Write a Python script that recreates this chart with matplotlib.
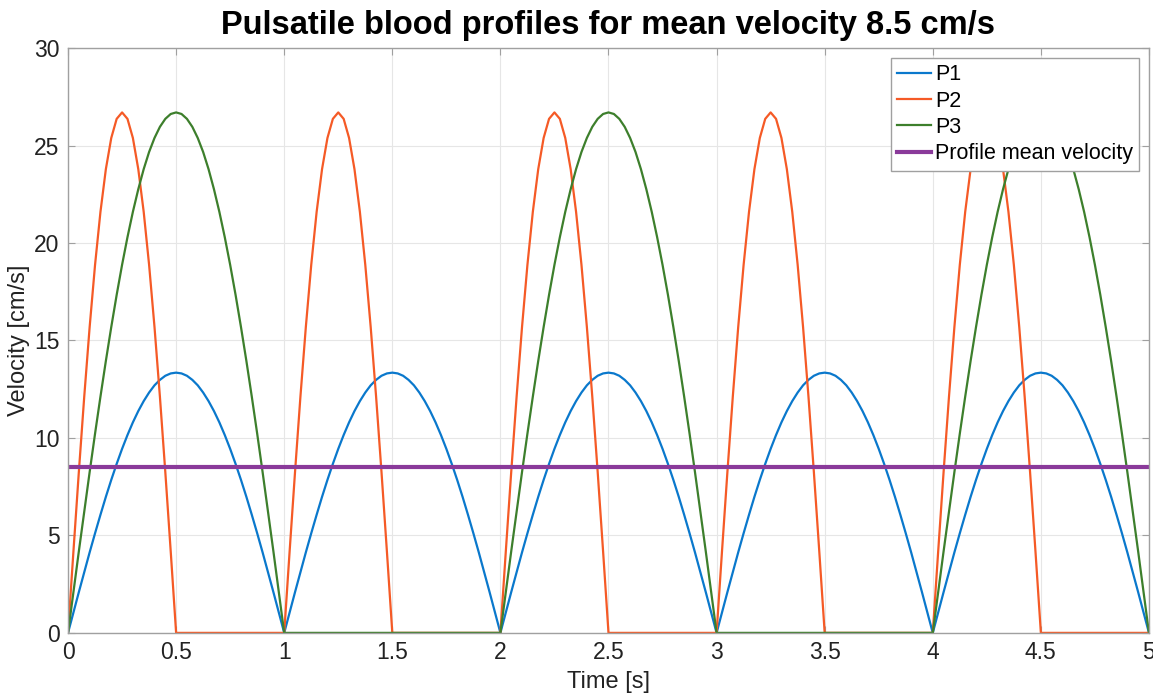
import numpy as np
import matplotlib as mpl
mpl.use('Agg')
import matplotlib.pyplot as plt

plt.rcParams['font.family'] = ['Liberation Sans', 'DejaVu Sans']

# velocity samples, every 0.025 s from 0 to 5 s
time_step = 0.025
p1 = [
    0, 1.05, 2.09, 3.12, 4.13, 5.11, 6.06, 6.98, 7.85, 8.67, 9.44, 10.15, 10.8, 11.38, 11.89, 12.33, 12.7, 12.98, 13.19, 13.31,
    13.35, 13.31, 13.19, 12.98, 12.7, 12.33, 11.89, 11.38, 10.8, 10.15, 9.44, 8.67, 7.85, 6.98, 6.06, 5.11, 4.13, 3.12, 2.09, 1.05,
    0, 1.05, 2.09, 3.12, 4.13, 5.11, 6.06, 6.98, 7.85, 8.67, 9.44, 10.15, 10.8, 11.38, 11.89, 12.33, 12.7, 12.98, 13.19, 13.31,
    13.35, 13.31, 13.19, 12.98, 12.7, 12.33, 11.89, 11.38, 10.8, 10.15, 9.44, 8.67, 7.85, 6.98, 6.06, 5.11, 4.13, 3.12, 2.09, 1.05,
    0, 1.05, 2.09, 3.12, 4.13, 5.11, 6.06, 6.98, 7.85, 8.67, 9.44, 10.15, 10.8, 11.38, 11.89, 12.33, 12.7, 12.98, 13.19, 13.31,
    13.35, 13.31, 13.19, 12.98, 12.7, 12.33, 11.89, 11.38, 10.8, 10.15, 9.44, 8.67, 7.85, 6.98, 6.06, 5.11, 4.13, 3.12, 2.09, 1.05,
    0, 1.05, 2.09, 3.12, 4.13, 5.11, 6.06, 6.98, 7.85, 8.67, 9.44, 10.15, 10.8, 11.38, 11.89, 12.33, 12.7, 12.98, 13.19, 13.31,
    13.35, 13.31, 13.19, 12.98, 12.7, 12.33, 11.89, 11.38, 10.8, 10.15, 9.44, 8.67, 7.85, 6.98, 6.06, 5.11, 4.13, 3.12, 2.09, 1.05,
    0, 1.05, 2.09, 3.12, 4.13, 5.11, 6.06, 6.98, 7.85, 8.67, 9.44, 10.15, 10.8, 11.38, 11.89, 12.33, 12.7, 12.98, 13.19, 13.31,
    13.35, 13.31, 13.19, 12.98, 12.7, 12.33, 11.89, 11.38, 10.8, 10.15, 9.44, 8.67, 7.85, 6.98, 6.06, 5.11, 4.13, 3.12, 2.09, 1.05,
    0]
p2 = [
    0, 4.18, 8.25, 12.12, 15.69, 18.88, 21.6, 23.79, 25.39, 26.37, 26.7, 26.37, 25.39, 23.79, 21.6, 18.88, 15.69, 12.12, 8.25, 4.18,
    0, 0, 0, 0, 0, 0, 0, 0, 0, 0, 0, 0, 0, 0, 0, 0, 0, 0, 0, 0,
    0, 4.18, 8.25, 12.12, 15.69, 18.88, 21.6, 23.79, 25.39, 26.37, 26.7, 26.37, 25.39, 23.79, 21.6, 18.88, 15.69, 12.12, 8.25, 4.18,
    0, 0, 0, 0, 0, 0, 0, 0, 0, 0, 0, 0, 0, 0, 0, 0, 0, 0, 0, 0,
    0, 4.18, 8.25, 12.12, 15.69, 18.88, 21.6, 23.79, 25.39, 26.37, 26.7, 26.37, 25.39, 23.79, 21.6, 18.88, 15.69, 12.12, 8.25, 4.18,
    0, 0, 0, 0, 0, 0, 0, 0, 0, 0, 0, 0, 0, 0, 0, 0, 0, 0, 0, 0,
    0, 4.18, 8.25, 12.12, 15.69, 18.88, 21.6, 23.79, 25.39, 26.37, 26.7, 26.37, 25.39, 23.79, 21.6, 18.88, 15.69, 12.12, 8.25, 4.18,
    0, 0, 0, 0, 0, 0, 0, 0, 0, 0, 0, 0, 0, 0, 0, 0, 0, 0, 0, 0,
    0, 4.18, 8.25, 12.12, 15.69, 18.88, 21.6, 23.79, 25.39, 26.37, 26.7, 26.37, 25.39, 23.79, 21.6, 18.88, 15.69, 12.12, 8.25, 4.18,
    0, 0, 0, 0, 0, 0, 0, 0, 0, 0, 0, 0, 0, 0, 0, 0, 0, 0, 0, 0,
    0]
p3 = [
    0, 2.1, 4.18, 6.23, 8.25, 10.22, 12.12, 13.95, 15.69, 17.34, 18.88, 20.3, 21.6, 22.76, 23.79, 24.67, 25.39, 25.96, 26.37, 26.62,
    26.7, 26.62, 26.37, 25.96, 25.39, 24.67, 23.79, 22.76, 21.6, 20.3, 18.88, 17.34, 15.69, 13.95, 12.12, 10.22, 8.25, 6.23, 4.18, 2.1,
    0, 0, 0, 0, 0, 0, 0, 0, 0, 0, 0, 0, 0, 0, 0, 0, 0, 0, 0, 0,
    0, 0, 0, 0, 0, 0, 0, 0, 0, 0, 0, 0, 0, 0, 0, 0, 0, 0, 0, 0,
    0, 2.1, 4.18, 6.23, 8.25, 10.22, 12.12, 13.95, 15.69, 17.34, 18.88, 20.3, 21.6, 22.76, 23.79, 24.67, 25.39, 25.96, 26.37, 26.62,
    26.7, 26.62, 26.37, 25.96, 25.39, 24.67, 23.79, 22.76, 21.6, 20.3, 18.88, 17.34, 15.69, 13.95, 12.12, 10.22, 8.25, 6.23, 4.18, 2.1,
    0, 0, 0, 0, 0, 0, 0, 0, 0, 0, 0, 0, 0, 0, 0, 0, 0, 0, 0, 0,
    0, 0, 0, 0, 0, 0, 0, 0, 0, 0, 0, 0, 0, 0, 0, 0, 0, 0, 0, 0,
    0, 2.1, 4.18, 6.23, 8.25, 10.22, 12.12, 13.95, 15.69, 17.34, 18.88, 20.3, 21.6, 22.76, 23.79, 24.67, 25.39, 25.96, 26.37, 26.62,
    26.7, 26.62, 26.37, 25.96, 25.39, 24.67, 23.79, 22.76, 21.6, 20.3, 18.88, 17.34, 15.69, 13.95, 12.12, 10.22, 8.25, 6.23, 4.18, 2.1,
    0]
mean_velocity = 8.5
labels = ['P1', 'P2', 'P3', 'Profile mean velocity']
x_ticks = [0, 0.5, 1, 1.5, 2, 2.5, 3, 3.5, 4, 4.5, 5]
x_tick_labels = ['0', '0.5', '1', '1.5', '2', '2.5', '3', '3.5', '4', '4.5', '5']
y_ticks = [0, 5, 10, 15, 20, 25, 30]

t = np.arange(len(p1)) * time_step

fig = plt.figure(figsize=(11.53, 6.97), dpi=100)
ax = fig.add_axes([0.059, 0.092, 0.9375, 0.839])

ax.plot(t, p1, color='#0A78CC', lw=1.6, label=labels[0])
ax.plot(t, p2, color='#F55A26', lw=1.6, label=labels[1])
ax.plot(t, p3, color='#3D7F2C', lw=1.6, label=labels[2])
ax.plot(t, np.full_like(t, mean_velocity), color='#8A3A9A', lw=3, label=labels[3])

ax.set_xlim(0, 5)
ax.set_ylim(0, 30)
ax.set_xticks(x_ticks)
ax.set_xticklabels(x_tick_labels)
ax.set_yticks(y_ticks)
ax.grid(True, color='#E6E6E6', lw=0.8)
ax.set_axisbelow(True)
for s in ax.spines.values():
    s.set_color('#A0A0A0')
    s.set_linewidth(1)
ax.tick_params(direction='in', top=True, right=True, length=5, color='#A0A0A0',
               labelcolor='#222222', labelsize=16.5, pad=6)

ax.set_xlabel('Time [s]', fontsize=17, color='#222222', labelpad=5)
ax.set_ylabel('Velocity [cm/s]', fontsize=17, color='#222222', labelpad=3)
ax.set_title('Pulsatile blood profiles for mean velocity 8.5 cm/s', fontsize=23.5,
             fontweight='bold', pad=10)

leg = ax.legend(loc='upper right', fontsize=15.5, fancybox=False, framealpha=1,
                edgecolor='#A0A0A0', handlelength=1.55, handletextpad=0.2,
                labelspacing=0.25, borderpad=0.3, borderaxespad=0.45)
leg.get_frame().set_linewidth(1)

plt.savefig('out.png', dpi=100)
